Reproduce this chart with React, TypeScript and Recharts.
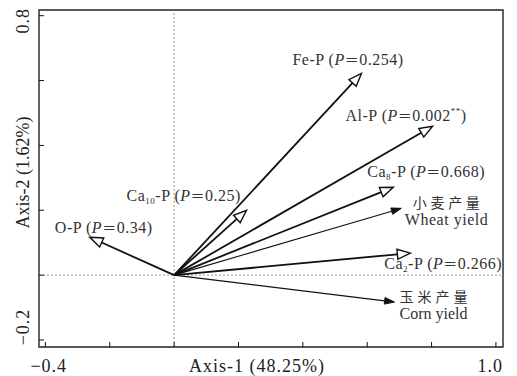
import React from 'react';
import { ScatterChart, Scatter, XAxis, YAxis, ReferenceLine, ReferenceArea } from 'recharts';

// RDA loadings
const variables = ['Fe-P', 'Al-P', 'Ca8-P', 'Wheat yield', 'Ca2-P', 'Corn yield', 'Ca10-P', 'O-P'];
const axis1 = [0.582, 0.803, 0.681, 0.706, 0.734, 0.685, 0.225, -0.262];
const axis2 = [0.622, 0.459, 0.271, 0.206, 0.068, -0.083, 0.2, 0.117];
const labelBase = ['Fe', 'Al', 'Ca', '', 'Ca', '', 'Ca', 'O'];
const labelSub = ['', '', '8', '', '2', '', '10', ''];
const pValues = ['0.254', '0.002', '0.668', '', '0.266', '', '0.25', '0.34'];
const pMarks = ['', '**', '', '', '', '', '', ''];
const cnNames = ['', '', '', '小麦产量', '', '玉米产量', '', ''];
const enNames = ['', '', '', 'Wheat yield', '', 'Corn yield', '', ''];

const xTicks = [-0.4, -0.2, 0, 0.2, 0.4, 0.6, 0.8, 1.0];
const yTicks = [-0.2, 0, 0.2, 0.4, 0.6, 0.8];
const xTickLabels = ['−0.4', '', '', '', '', '', '', '1.0'];
const yTickLabels = ['−0.2', '', '', '', '', '0.8'];

const X_DOMAIN: [number, number] = [-0.42, 1.022];
const Y_DOMAIN: [number, number] = [-0.2216, 0.8176];

const points = variables.map((name, i) => ({ name, x: axis1[i], y: axis2[i], i }));

// label offsets from arrow tip (px); cnW/enW = measured widths of the yield labels
const labelPos = [
  { dx: -69, dy: -8 },
  { dx: -87, dy: -5 },
  { dx: -26, dy: -10 },
  { dx: 45, dy: 0, cnW: 67, enW: 83 },
  { dx: -26, dy: 16 },
  { dx: 39, dy: 0, cnW: 68, enW: 68 },
  { dx: -120, dy: -9 },
  { dx: -35, dy: -4 },
];

const SERIF = 'Liberation Serif, Times New Roman, serif';
const CJK = 'Noto Sans CJK SC, Noto Sans CJK JP, sans-serif';
const INK = '#111';

const arrowShape = (yieldArrow: boolean) => (p: any) => {
  const { x1, y1, x2, y2 } = p;
  const dx = x2 - x1;
  const dy = y2 - y1;
  const len = Math.hypot(dx, dy) || 1;
  const ux = dx / len;
  const uy = dy / len;
  const headLen = yieldArrow ? 10 : 13;
  const half = yieldArrow ? 3.3 : 5;
  const bx = x2 - ux * headLen;
  const by = y2 - uy * headLen;
  const nx = -uy;
  const ny = ux;
  const pts = `${x2},${y2} ${bx + nx * half},${by + ny * half} ${bx - nx * half},${by - ny * half}`;
  return (
    <g>
      <line x1={x1} y1={y1} x2={bx} y2={by} stroke={INK} strokeWidth={yieldArrow ? 1.1 : 1.8} />
      <polygon points={pts} fill={yieldArrow ? INK : '#fff'} stroke={INK} strokeWidth={yieldArrow ? 1 : 1.4} />
    </g>
  );
};

const LabelShape = (props: any) => {
  const { cx, cy, payload } = props;
  const i = payload.i;
  const pos = labelPos[i];
  const x = cx + pos.dx;
  const y = cy + pos.dy;
  if (cnNames[i]) {
    return (
      <g fill="#333">
        <text
          x={x - pos.cnW / 2}
          y={y}
          style={{ fontFamily: CJK }}
          fontSize={14}
          textLength={pos.cnW}
          lengthAdjust="spacing"
        >
          {cnNames[i]}
        </text>
        <text
          x={x - pos.enW / 2}
          y={y + 17}
          style={{ fontFamily: SERIF }}
          fontSize={16}
          textLength={pos.enW}
          lengthAdjust="spacing"
        >
          {enNames[i]}
        </text>
      </g>
    );
  }
  const sub = labelSub[i];
  const mark = pMarks[i];
  return (
    <text x={x} y={y} fill="#333" style={{ fontFamily: SERIF }} fontSize={16} letterSpacing={0.5}>
      {labelBase[i]}
      {sub ? (
        <tspan fontSize={9} dy={3}>
          {sub}
        </tspan>
      ) : null}
      <tspan dy={sub ? -3 : 0}>-P (</tspan>
      <tspan fontStyle="italic">P</tspan>
      <tspan style={{ fontFamily: CJK }} fontSize={14}>＝</tspan>
      <tspan>{pValues[i]}</tspan>
      {mark ? (
        <tspan fontSize={9} dy={-7}>
          {mark}
        </tspan>
      ) : null}
      <tspan dy={mark ? 7 : 0}>)</tspan>
    </text>
  );
};

const XTick = (props: any) => {
  const { x, y, index } = props;
  const label = xTickLabels[index];
  const first = index === 0;
  return (
    <g>
      <line x1={x} y1={y} x2={x} y2={y - 5} stroke={INK} strokeWidth={1} />
      {label ? (
        <text
          x={first ? x - 15 : x + 7}
          y={y + 25}
          textAnchor={first ? 'start' : 'end'}
          style={{ fontFamily: SERIF }}
          fontSize={18}
          letterSpacing={1}
          fill="#222"
        >
          {label}
        </text>
      ) : null}
    </g>
  );
};

const YTick = (props: any) => {
  const { x, y, index } = props;
  const label = yTickLabels[index];
  const ty = index === 0 ? y - 13 : y + 5;
  return (
    <g>
      <line x1={x} y1={y} x2={x + 5} y2={y} stroke={INK} strokeWidth={1} />
      {label ? (
        <text
          x={23}
          y={ty}
          transform={`rotate(-90 23 ${ty})`}
          textAnchor="middle"
          dominantBaseline="central"
          style={{ fontFamily: SERIF }}
          fontSize={18}
          letterSpacing={1}
          fill="#222"
        >
          {label}
        </text>
      ) : null}
    </g>
  );
};

export default function App() {
  return (
    <div style={{ position: 'absolute', left: 0, top: 0, background: '#fff', fontFamily: SERIF }}>
      <ScatterChart width={517} height={376} margin={{ top: 10, right: 14, bottom: 0, left: 0 }}>
        <XAxis
          type="number"
          dataKey="x"
          domain={X_DOMAIN}
          ticks={xTicks}
          allowDataOverflow
          axisLine={false}
          tickLine={false}
          tickSize={0}
          tickMargin={0}
          height={29}
          interval={0}
          tick={<XTick />}
          label={{
            content: (lp: any) => {
              const vb = lp.viewBox;
              return (
                <text
                  x={vb.x + vb.width / 2 - 14}
                  y={vb.y + 25}
                  textAnchor="middle"
                  style={{ fontFamily: SERIF }}
                  fontSize={18}
                  letterSpacing={1}
                  fill="#222"
                >
                  Axis-1 (48.25%)
                </text>
              );
            },
          }}
        />
        <YAxis
          type="number"
          dataKey="y"
          domain={Y_DOMAIN}
          ticks={yTicks}
          allowDataOverflow
          axisLine={false}
          tickLine={false}
          tickSize={0}
          tickMargin={0}
          width={39}
          interval={0}
          tick={<YTick />}
          label={{
            content: (lp: any) => {
              const vb = lp.viewBox;
              const cy = vb.y + vb.height / 2 - 6;
              return (
                <text
                  x={23}
                  y={cy}
                  transform={`rotate(-90 23 ${cy})`}
                  textAnchor="middle"
                  dominantBaseline="central"
                  style={{ fontFamily: SERIF }}
                  fontSize={18}
                  fill="#222"
                >
                  Axis-2 (1.62%)
                </text>
              );
            },
          }}
        />
        <ReferenceArea
          x1={X_DOMAIN[0]}
          x2={X_DOMAIN[1]}
          y1={Y_DOMAIN[0]}
          y2={Y_DOMAIN[1]}
          fill="none"
          fillOpacity={0}
          stroke="#222"
          strokeWidth={1.4}
          ifOverflow="visible"
        />
        <ReferenceLine x={0} stroke="#777" strokeDasharray="2 2" strokeWidth={0.8} />
        <ReferenceLine y={0} stroke="#777" strokeDasharray="2 2" strokeWidth={0.8} />
        {points.map((pt) => (
          <ReferenceLine
            key={pt.name}
            segment={[
              { x: 0, y: 0 },
              { x: pt.x, y: pt.y },
            ]}
            shape={arrowShape(enNames[pt.i] !== '')}
            ifOverflow="visible"
          />
        ))}
        <Scatter data={points} shape={<LabelShape />} isAnimationActive={false} />
      </ScatterChart>
    </div>
  );
}
